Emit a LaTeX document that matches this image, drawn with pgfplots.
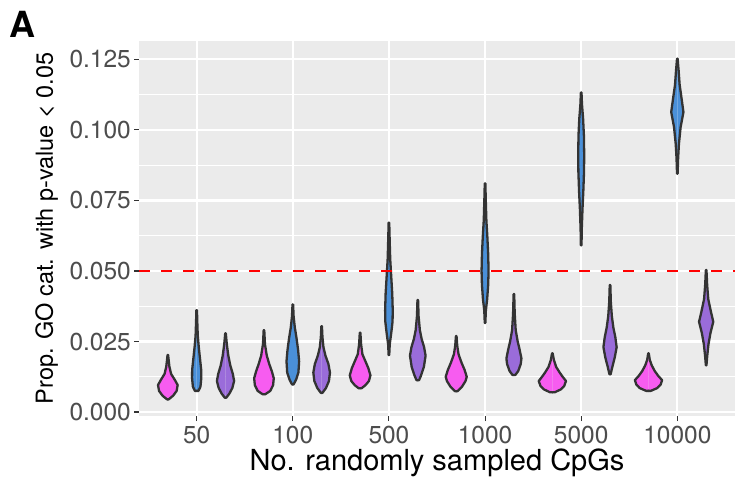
\documentclass[border=0pt]{standalone}
\usepackage{fontspec}
\setmainfont{TeX Gyre Heros}
\usepackage{pgfplots}
\pgfplotsset{compat=1.18}
\usepackage{pgfplotstable}

\definecolor{vpink}{RGB}{247,92,240}
\definecolor{vblue}{RGB}{74,144,217}
\definecolor{vpurple}{RGB}{154,108,218}
\definecolor{panelbg}{RGB}{235,235,235}
\definecolor{outl}{RGB}{51,51,51}
\definecolor{ticklab}{RGB}{77,77,77}

% violin half-profiles: y value, half width (px); w=0.7 rows close the outline at the centre
\pgfplotstableread{
y w
0.0045 0.7
0.0045 1.5
0.0058 6
0.0075 9.5
0.0096 10.5
0.0115 7.5
0.0135 4
0.0160 2.3
0.0185 1.5
0.0202 1
0.0202 0.7
}\tPa
\pgfplotstableread{
y w
0.0075 0.7
0.0075 2.5
0.0090 4.5
0.0120 5.3
0.0150 5.2
0.0190 4
0.0230 2.8
0.0270 1.8
0.0320 1.3
0.0361 1
0.0361 0.7
}\tBa
\pgfplotstableread{
y w
0.0051 0.7
0.0051 1.5
0.0065 4.5
0.0085 7.5
0.0110 9.3
0.0135 8
0.0165 5.5
0.0200 3.5
0.0240 2
0.0279 1
0.0279 0.7
}\tUa
\pgfplotstableread{
y w
0.0063 0.7
0.0063 2
0.0075 7
0.0095 9.8
0.0120 10.5
0.0145 8.5
0.0170 6
0.0200 3.5
0.0240 1.7
0.0290 1
0.0290 0.7
}\tPb
\pgfplotstableread{
y w
0.0098 0.7
0.0098 1.5
0.0115 4
0.0140 6.3
0.0180 7
0.0220 6
0.0260 4.5
0.0300 2.7
0.0340 1.5
0.0381 1
0.0381 0.7
}\tBb
\pgfplotstableread{
y w
0.0068 0.7
0.0068 1.5
0.0085 5
0.0110 8
0.0140 9
0.0170 7.5
0.0200 4.5
0.0230 2.5
0.0265 1.5
0.0304 1
0.0304 0.7
}\tUb
\pgfplotstableread{
y w
0.0084 0.7
0.0084 2
0.0095 6
0.0110 9.5
0.0130 11
0.0155 9
0.0180 6
0.0205 3
0.0240 1.7
0.0281 1
0.0281 0.7
}\tPc
\pgfplotstableread{
y w
0.0202 0.7
0.0202 1
0.0240 1.5
0.0280 3
0.0320 4.3
0.0360 4.5
0.0420 4
0.0480 3
0.0540 2
0.0600 1.5
0.0671 1
0.0671 0.7
}\tBc
\pgfplotstableread{
y w
0.0113 0.7
0.0113 2
0.0130 4
0.0160 6.8
0.0200 8.5
0.0230 7
0.0260 4.5
0.0290 2.8
0.0340 1.5
0.0397 1
0.0397 0.7
}\tUc
\pgfplotstableread{
y w
0.0074 0.7
0.0074 2
0.0090 6.5
0.0110 10
0.0125 11.2
0.0150 9
0.0175 6
0.0205 3
0.0235 1.7
0.0269 1
0.0269 0.7
}\tPd
\pgfplotstableread{
y w
0.0316 0.7
0.0316 1
0.0360 1.5
0.0400 2.8
0.0450 3.8
0.0500 4.2
0.0560 3.8
0.0620 3
0.0680 2
0.0740 1.5
0.0810 1
0.0810 0.7
}\tBd
\pgfplotstableread{
y w
0.0131 0.7
0.0131 2
0.0145 5
0.0170 7.5
0.0190 8.2
0.0220 6.5
0.0250 4.5
0.0290 2.5
0.0350 1.5
0.0418 1
0.0418 0.7
}\tUd
\pgfplotstableread{
y w
0.0070 0.7
0.0070 3
0.0080 9
0.0092 12.5
0.0110 14.3
0.0125 11
0.0140 8
0.0160 4.5
0.0185 2.2
0.0208 1
0.0208 0.7
}\tPe
\pgfplotstableread{
y w
0.0591 0.7
0.0591 1
0.0650 1.3
0.0720 2
0.0780 2.8
0.0850 3.5
0.0910 3.7
0.0980 3.4
0.1040 2.6
0.1090 1.5
0.1132 1
0.1132 0.7
}\tBe
\pgfplotstableread{
y w
0.0134 0.7
0.0134 1.3
0.0160 3
0.0195 5.5
0.0230 7.3
0.0265 6
0.0300 4
0.0340 2.5
0.0390 1.5
0.0450 1
0.0450 0.7
}\tUe
\pgfplotstableread{
y w
0.0075 0.7
0.0075 3
0.0085 9.5
0.0097 12.8
0.0113 14.3
0.0128 10.5
0.0145 7
0.0165 4
0.0185 2
0.0208 1
0.0208 0.7
}\tPf
\pgfplotstableread{
y w
0.0845 0.7
0.0845 1
0.0900 1.5
0.0950 2.3
0.1010 4
0.1063 6.8
0.1110 5
0.1160 3
0.1210 2
0.1252 1
0.1252 0.7
}\tBf
\pgfplotstableread{
y w
0.0166 0.7
0.0166 1
0.0200 1.8
0.0240 3
0.0280 5
0.0320 7.8
0.0355 5.5
0.0400 2.8
0.0450 1.7
0.0503 1
0.0503 0.7
}\tUf

% centre, table, colour
\newcommand{\violin}[3]{%
  \addplot[fill=#3, draw=#3, line width=0.6pt, forget plot] table[x expr={#1+(\thisrow{w}-0.7)/96}, y=y] {#2};
  \addplot[fill=#3, draw=#3, line width=0.6pt, forget plot] table[x expr={#1-(\thisrow{w}-0.7)/96}, y=y] {#2};
  \addplot[draw=outl, line width=2.3pt, line join=round, line cap=round, forget plot] table[x expr={#1+(\thisrow{w}-0.7)/96}, y=y] {#2};
  \addplot[draw=outl, line width=2.3pt, line join=round, line cap=round, forget plot] table[x expr={#1-(\thisrow{w}-0.7)/96}, y=y] {#2};
}

\begin{document}
\begin{tikzpicture}
\useasboundingbox (0,0) rectangle (736pt,487pt);
\node[anchor=base west, inner sep=0pt, font=\fontsize{36}{36}\selectfont\bfseries] at (9pt,449pt) {A};
\begin{axis}[
  at={(139pt,71pt)}, anchor=south west,
  scale only axis, width=596pt, height=375pt,
  xmin=-0.6, xmax=5.6, ymin=-0.0014, ymax=0.1315,
  axis background/.style={fill=panelbg},
  axis line style={draw=none},
  xtick={0,1,2,3,4,5},
  xticklabels={50,100,500,1000,5000,10000},
  ytick={0,0.025,0.05,0.075,0.1,0.125},
  yticklabels={0.000,0.025,0.050,0.075,0.100,0.125},
  minor ytick={0.0125,0.0375,0.0625,0.0875,0.1125},
  grid=both,
  major grid style={white, line width=2.2pt},
  minor grid style={white, line width=1.1pt},
  tick align=outside, tick pos=left,
  major tick length=5pt, minor tick length=0pt,
  tick style={outl, line width=1.1pt},
  /pgf/number format/assume math mode=true,
  ticklabel style={font=\fontsize{24.5}{24.5}\selectfont, text=ticklab},
  yticklabel style={anchor=east, inner sep=0pt, xshift=-3pt},
  xticklabel style={anchor=north, inner sep=0pt, yshift=-5pt},
  xlabel={No. randomly sampled CpGs},
  ylabel={Prop. GO cat. with p-value < 0.05},
  xlabel style={font=\fontsize{29}{29}\selectfont, at={(axis description cs:0.5,-0.146)}, anchor=base},
  ylabel style={font=\fontsize{23.5}{23.5}\selectfont, at={(axis description cs:-0.1443,0.5)}, anchor=base},
]
\violin{-0.3}{\tPa}{vpink}
\violin{0}{\tBa}{vblue}
\violin{0.3}{\tUa}{vpurple}
\violin{0.7}{\tPb}{vpink}
\violin{1}{\tBb}{vblue}
\violin{1.3}{\tUb}{vpurple}
\violin{1.7}{\tPc}{vpink}
\violin{2}{\tBc}{vblue}
\violin{2.3}{\tUc}{vpurple}
\violin{2.7}{\tPd}{vpink}
\violin{3}{\tBd}{vblue}
\violin{3.3}{\tUd}{vpurple}
\violin{3.7}{\tPe}{vpink}
\violin{4}{\tBe}{vblue}
\violin{4.3}{\tUe}{vpurple}
\violin{4.7}{\tPf}{vpink}
\violin{5}{\tBf}{vblue}
\violin{5.3}{\tUf}{vpurple}
\addplot[red, line width=2.7pt, dash pattern=on 11pt off 11pt, forget plot] coordinates {(-0.6,0.05) (5.6,0.05)};
\end{axis}
\end{tikzpicture}
\end{document}
